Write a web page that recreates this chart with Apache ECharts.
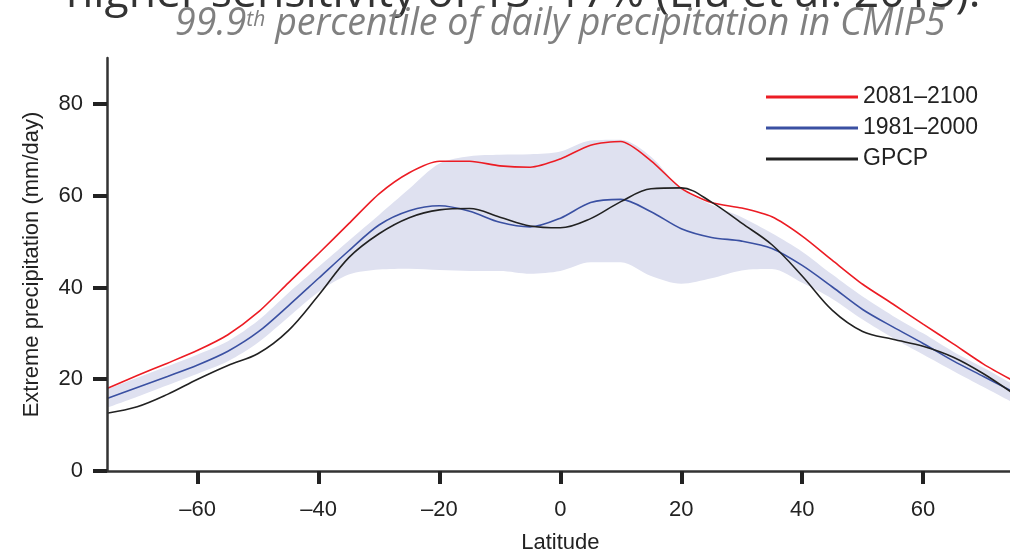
<!DOCTYPE html>
<html>
<head>
<meta charset="utf-8">
<script src="https://cdn.jsdelivr.net/npm/echarts@6/dist/echarts.min.js"></script>
<style>
html,body{margin:0;padding:0;background:#fff;}
#chart{width:1010px;height:553px;}
</style>
</head>
<body>
<div id="chart"></div>
<script>
// ---- data ----
const latitudes = [-75,-70,-65,-60,-55,-50,-45,-40,-35,-30,-25,-20,-15,-10,-5,0,5,10,15,20,25,30,35,40,45,50,55,60,65,70,75];
const future2081 = [18.0,20.8,23.5,26.3,29.7,34.6,41.0,47.4,53.9,60.4,65.0,67.5,67.5,66.5,66.2,68.0,71.0,71.8,67.6,61.6,58.5,57.3,55.4,51.2,45.9,40.7,36.4,32.0,27.7,23.3,19.6];
const hist1981 = [15.8,18.2,20.6,23.1,26.1,30.3,36.0,42.0,48.0,53.6,56.7,57.8,56.6,54.2,53.2,55.1,58.5,59.2,56.5,52.8,50.9,50.1,48.5,44.8,40.1,35.2,31.4,27.8,24.0,20.6,17.2];
const gpcp = [12.6,14.0,16.7,20.0,23.0,25.6,30.6,38.3,46.5,51.7,55.2,56.9,57.2,55.3,53.4,53.0,55.0,58.7,61.5,61.7,58.6,54.0,49.3,42.5,35.0,30.4,28.7,27.2,24.8,21.2,16.8];
const bandLower = [13.8,16.2,18.7,21.2,23.9,28.0,33.5,39.0,42.8,43.9,44.1,43.8,43.6,43.6,43.0,43.6,45.5,45.5,42.5,40.8,42.0,43.7,44.0,41.0,37.5,33.0,29.0,25.4,21.8,18.3,14.8];
const bandUpper = [17.8,20.3,22.8,25.4,28.3,32.8,38.8,44.5,50.2,55.8,61.5,67.0,68.6,68.9,69.0,69.6,72.0,72.2,68.5,61.5,58.0,55.3,51.8,47.8,42.8,38.0,33.8,30.0,26.0,22.5,18.8];
const xTicks = [-60,-40,-20,0,20,40,60];
const yTicks = [0,20,40,60,80];
const seriesNames = ['2081\u20132100','1981\u20132000','GPCP'];
const titleText = 'higher sensitivity of 13~17% (Liu et al. 2015).';
const subtitleMain = '99.9';
const subtitleSup = 'th';
const subtitleRest = ' percentile of daily precipitation in CMIP5';
const xName = 'Latitude';
const yName = 'Extreme precipitation (mm/day)';

// ---- build ----
const pairs = arr => latitudes.map((x, i) => [x, arr[i]]);
const FONT = "'Liberation Sans', Arial, sans-serif";
const dash = v => String(v).replace('-', '\u2013');

const chart = echarts.init(document.getElementById('chart'), null, {renderer: 'canvas'});
chart.setOption({
  animation: false,
  backgroundColor: '#fff',
  graphic: [
    {
      type: 'text', left: 66, top: -28, z: 10,
      style: { text: titleText, font: "44.5px 'Open Sans'", fill: '#333333' }
    },
    {
      type: 'text', left: 175, top: 1, z: 11,
      style: {
        text: '{m|' + subtitleMain + '}{s|' + subtitleSup + '}{m|' + subtitleRest + '}',
        rich: {
          m: { fontFamily: 'Open Sans', fontStyle: 'italic', fontSize: 37.5, fill: '#808080', color: '#808080', lineHeight: 42, verticalAlign: 'bottom' },
          s: { fontFamily: 'Open Sans', fontStyle: 'italic', fontSize: 21, fill: '#808080', color: '#808080', lineHeight: 22, padding: [9, 0, 0, 0], verticalAlign: 'top' }
        }
      }
    }
  ],
  legend: {
    data: seriesNames,
    orient: 'vertical',
    left: 761, top: 80,
    icon: 'rect',
    itemWidth: 92, itemHeight: 3,
    itemGap: 7,
    textStyle: { fontFamily: FONT, fontSize: 23, color: '#222', lineHeight: 24 }
  },
  grid: { left: 107, top: 58, width: 906.75, height: 413, containLabel: false, outerBoundsMode: 'none' },
  xAxis: {
    type: 'value', min: -75, max: 75, z: 10,
    name: xName, nameLocation: 'middle', nameGap: 61,
    nameTextStyle: { fontFamily: FONT, fontSize: 22, color: '#222' },
    axisLine: { show: true, onZero: false, lineStyle: { color: '#333', width: 2.5 } },
    axisTick: { show: true, length: 13, customValues: xTicks, lineStyle: { color: '#222', width: 4 } },
    axisLabel: { customValues: xTicks, margin: 28, fontFamily: FONT, fontSize: 22, color: '#222', formatter: dash },
    splitLine: { show: false }
  },
  yAxis: {
    type: 'value', min: 0, max: 90, z: 10,
    name: yName, nameLocation: 'middle', nameGap: 64,
    nameTextStyle: { fontFamily: FONT, fontSize: 22, color: '#222' },
    axisLine: { show: true, onZero: false, lineStyle: { color: '#333', width: 2.5 } },
    axisTick: { show: true, length: 14, customValues: yTicks, lineStyle: { color: '#222', width: 4 } },
    axisLabel: { customValues: yTicks, margin: 24, fontFamily: FONT, fontSize: 22, color: '#222' },
    splitLine: { show: false }
  },
  series: [
    { name: 'bandUpper', type: 'line', data: pairs(bandUpper), symbol: 'none', smooth: 0.3,
      lineStyle: { opacity: 0 }, areaStyle: { color: '#dfe1f0', opacity: 1 }, silent: true, z: 1 },
    { name: 'bandLower', type: 'line', data: pairs(bandLower), symbol: 'none', smooth: 0.3,
      lineStyle: { opacity: 0 }, areaStyle: { color: '#ffffff', opacity: 1 }, silent: true, z: 1 },
    { name: seriesNames[0], type: 'line', data: pairs(future2081), symbol: 'none', smooth: 0.25,
      color: '#ec1c24', lineStyle: { color: '#ec1c24', width: 1.6 }, z: 3 },
    { name: seriesNames[1], type: 'line', data: pairs(hist1981), symbol: 'none', smooth: 0.3,
      color: '#3a50a2', lineStyle: { color: '#3a50a2', width: 1.6 }, z: 4 },
    { name: seriesNames[2], type: 'line', data: pairs(gpcp), symbol: 'none', smooth: 0.35,
      color: '#222222', lineStyle: { color: '#222222', width: 1.6 }, z: 5 }
  ]
});
</script>
</body>
</html>
